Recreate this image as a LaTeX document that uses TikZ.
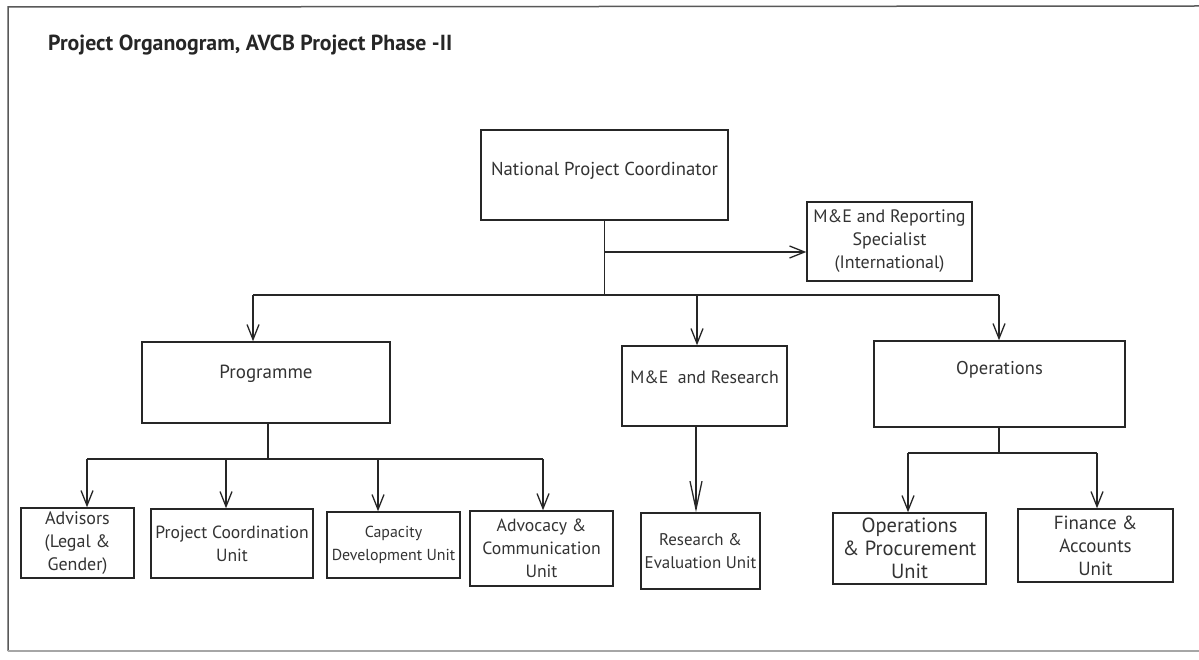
\documentclass[tikz,border=0pt]{standalone}
\usepackage{fontspec}
\setmainfont{PT Sans}
\usetikzlibrary{arrows.meta}
\newcommand{\fsz}[1]{\fontsize{#1}{23}\selectfont}
\begin{document}
\begin{tikzpicture}[x=1pt,y=-1pt,
  box/.style={draw=black!85, line width=1.5pt, inner sep=0pt, align=center, text=black!80},
  conn/.style={draw=black!85, line width=1.5pt},
  arr/.style={conn, -{Straight Barb[length=15pt,width=12pt,line width=1.3pt]}},
  longarr/.style={conn, -{Straight Barb[length=28pt,width=12pt,line width=1.3pt]}},
  ]
\useasboundingbox (0,0) rectangle (1199,660);
\fill[white] (0,0) rectangle (1199,660);
% frame
\draw[black!65, line width=1.5pt] (1199,6) -- (8,7) -- (8,651);
\draw[black!35, line width=1.2pt] (8,651) -- (1199,651);
% title
\node[anchor=base west, inner sep=0pt, font=\bfseries\fsz{21.8}, text=black!85] (title) at (48,51) {Project Organogram, AVCB Project Phase -II};
% top level
\node[box, anchor=base, minimum width=247pt, text height=46pt, text depth=44pt, font=\fsz{18.7}] (npc) at (604.5,176) {National Project Coordinator};
\node[box, minimum width=165pt, minimum height=79pt, font=\fsz{18}] (mers) at (889.5,241.5) {M\&E and Reporting\\Specialist\\(International)};
% second level
\node[box, anchor=base, minimum width=248pt, text height=36pt, text depth=45pt, font=\fsz{19}] (prog) at (266,378) {Programme};
\node[box, anchor=base, minimum width=165pt, text height=37pt, text depth=43pt, font=\fsz{17.8}] (mer) at (704.5,383) {M\&E\ \ and Research};
\node[box, anchor=base, minimum width=251pt, text height=33pt, text depth=53pt, font=\fsz{18.5}] (ops) at (999.5,374) {Operations};
% third level
\node[box, minimum width=113pt, minimum height=70pt, font=\fsz{18}] (adv) at (77.5,543) {Advisors\\(Legal \&\\Gender)};
\node[box, minimum width=162pt, minimum height=69pt, font=\fsz{17.6}] (pcu) at (232,543.5) {Project Coordination\\Unit};
\node[box, minimum width=133pt, minimum height=66pt, font=\fsz{15.9}] (cdu) at (393.5,545) {Capacity\\Development Unit};
\node[box, minimum width=143pt, minimum height=75pt, font=\fsz{17.7}] (aac) at (541.5,548.5) {Advocacy \&\\Communication\\Unit};
\node[box, minimum width=119pt, minimum height=76pt, font=\fsz{16.9}] (reu) at (700.5,551) {Research \&\\Evaluation Unit};
\node[box, minimum width=153pt, minimum height=71pt, font=\fsz{20.5}] (opu) at (909.5,548.5) {Operations\\\& Procurement\\Unit};
\node[box, minimum width=155pt, minimum height=73pt, font=\fsz{19}] (fau) at (1095.5,545.5) {Finance \&\\Accounts\\Unit};
% connectors from NPC
\coordinate (c1) at (604.5,252);
\coordinate (b1) at (253,295);
\coordinate (b2) at (697,295);
\coordinate (b3) at (999,295);
\draw[conn] (npc.south) -- (npc.south |- b1);
\draw[arr] (c1) -- (c1 -| mers.west);
\draw[conn] (b1) -- (b3);
\draw[arr] (b1) -- (b1 |- prog.north);
\draw[arr] (b2) -- (b2 |- mer.north);
\draw[arr] (b3) -- (b3 |- ops.north);
% programme branch
\coordinate (p0) at (268,459);
\coordinate (q1) at (87,459);
\coordinate (q2) at (226,459);
\coordinate (q3) at (378,459);
\coordinate (q4) at (543,459);
\draw[conn] (prog.south -| p0) -- (p0);
\draw[conn] (q1) -- (q4);
\draw[arr] (q1) -- (q1 |- adv.north);
\draw[arr] (q2) -- (q2 |- pcu.north);
\draw[arr] (q3) -- (q3 |- cdu.north);
\draw[arr] (q4) -- (q4 |- aac.north);
% M&E branch
\coordinate (r0) at (696,426);
\draw[longarr] (r0) -- (r0 |- reu.north);
% operations branch
\coordinate (o0) at (999,453);
\coordinate (o1) at (908,453);
\coordinate (o2) at (1097,453);
\draw[conn] (ops.south -| o0) -- (o0);
\draw[conn] (o1) -- (o2);
\draw[arr] (o1) -- (o1 |- opu.north);
\draw[arr] (o2) -- (o2 |- fau.north);
\end{tikzpicture}
\end{document}
